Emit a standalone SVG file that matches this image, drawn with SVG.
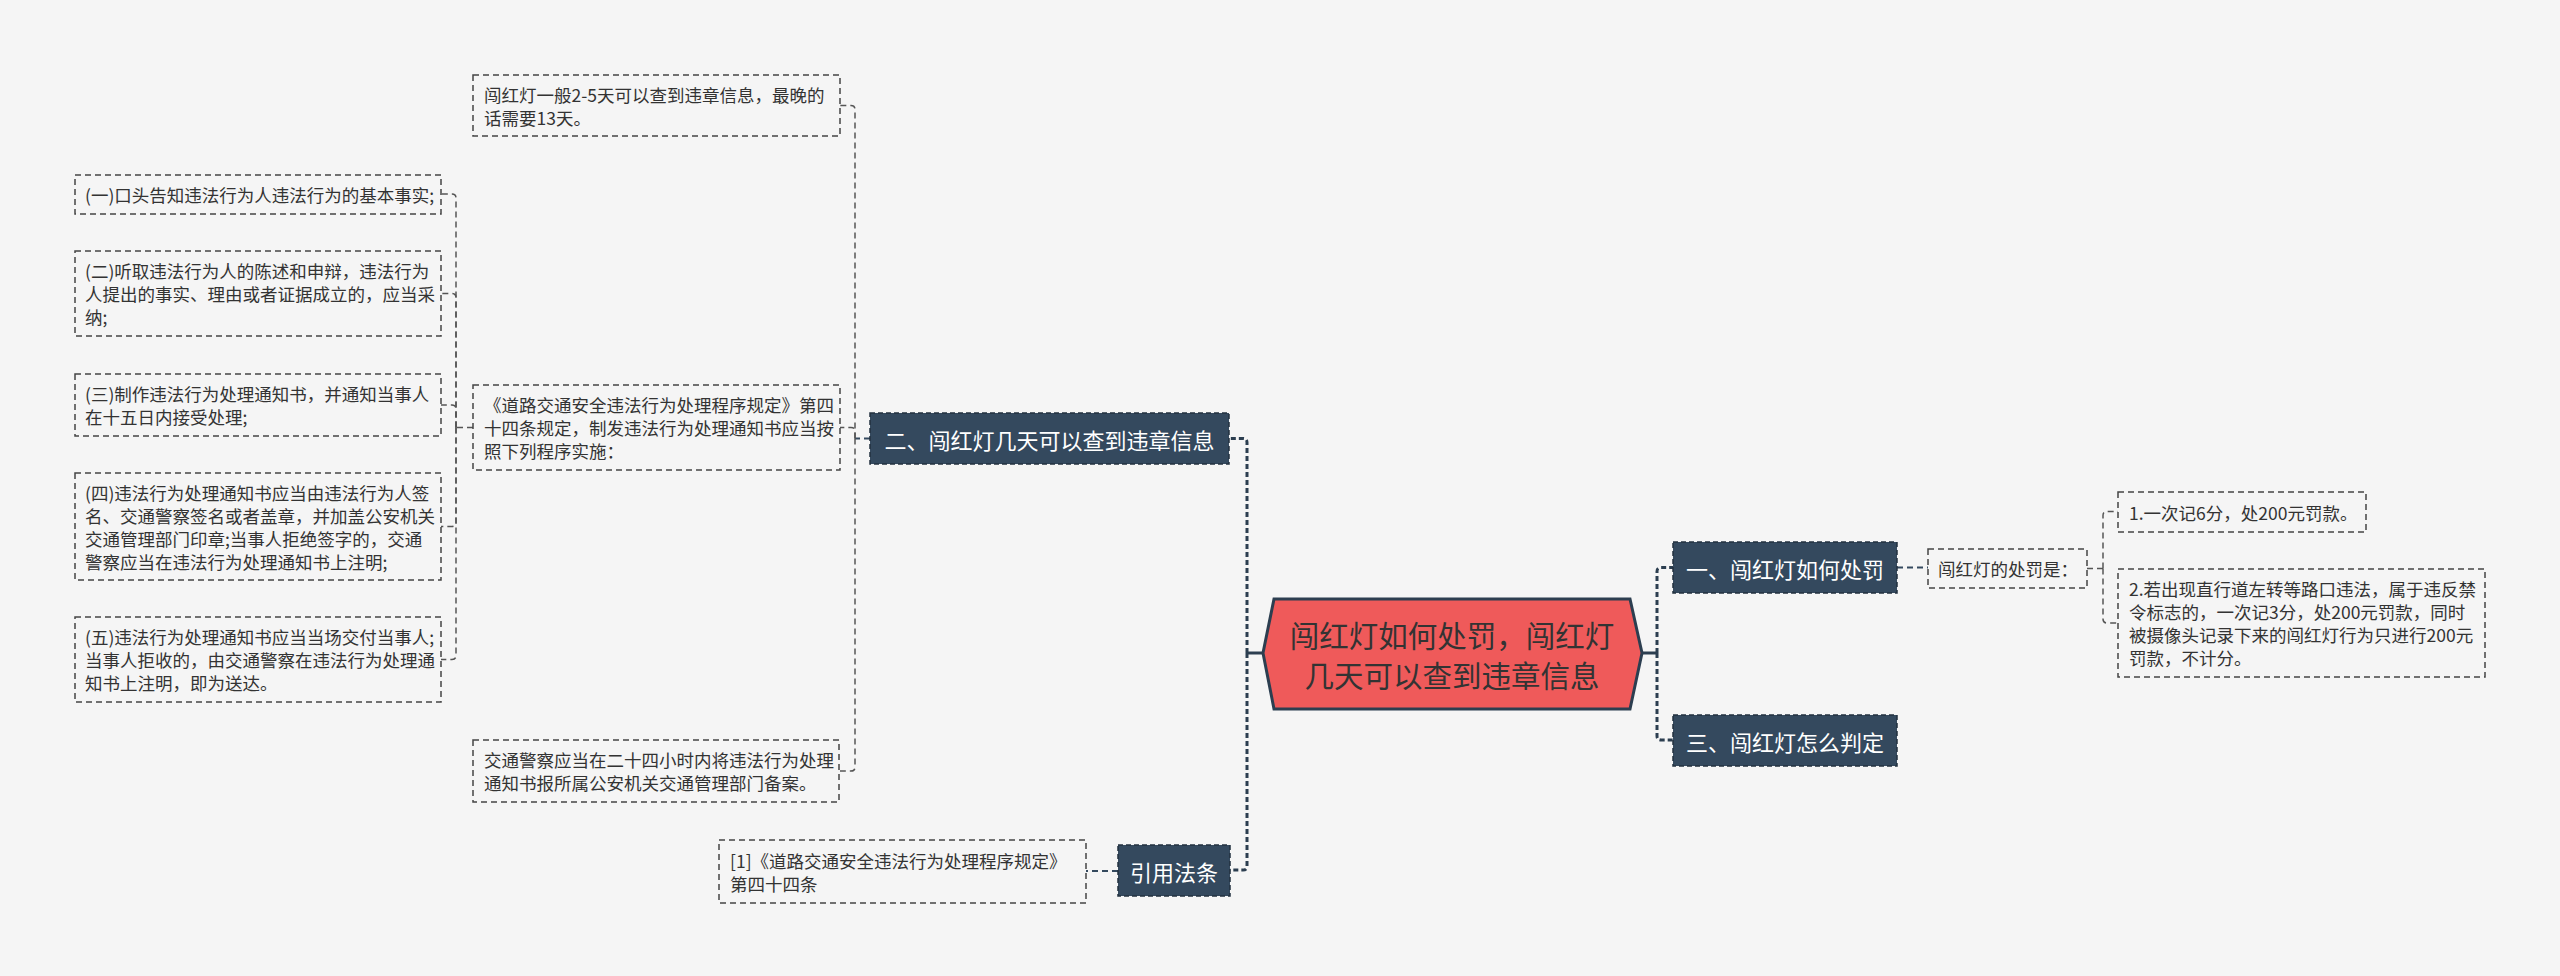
<svg xmlns="http://www.w3.org/2000/svg" width="2560" height="976" viewBox="0 0 2560 976">
<style>
text{font-family:"Noto Sans CJK SC","Noto Sans",sans-serif;}
.box{fill:#f5f5f5;stroke:#444;stroke-width:1.5;stroke-dasharray:6 4;}
.bt{font-size:17.5px;fill:#333;dominant-baseline:central;}
.dark{fill:#34495e;stroke:#22313f;stroke-width:1.5;stroke-dasharray:5 3;}
.dt{font-size:22px;fill:#fff;text-anchor:middle;dominant-baseline:central;}
.c1{fill:none;stroke:#2c3e50;stroke-width:3;stroke-dasharray:5 3;}
.c1s{fill:none;stroke:#2c3e50;stroke-width:3;}
.c2{fill:none;stroke:#34495e;stroke-width:2;stroke-dasharray:6 4;}
.c3{fill:none;stroke:#555;stroke-width:1.5;stroke-dasharray:6 4;}
</style>
<rect width="2560" height="976" fill="#f5f5f5"/>
<g id="connectors">
<path class="c1s" d="M1263,653 H1247"/>
<path class="c1" d="M1247,653 V442.5 Q1247,438.5 1243,438.5 H1230"/>
<path class="c1" d="M1247,653 V866 Q1247,870 1243,870 H1230"/>
<path class="c1s" d="M1642,653 H1657"/>
<path class="c1" d="M1657,653 V571.5 Q1657,567.5 1661,567.5 H1673"/>
<path class="c1" d="M1657,653 V736 Q1657,740 1661,740 H1673"/>
<path class="c2" d="M870,438.5 H855"/>
<path class="c3" d="M855,438.5 V109.5 Q855,105.5 851,105.5 H840"/>
<path class="c3" d="M855,438.5 V431.5 Q855,427.5 851,427.5 H840"/>
<path class="c3" d="M855,438.5 V767 Q855,771 851,771 H840"/>
<path class="c3" d="M473,427.5 H456"/>
<path class="c3" d="M456,427.5 V198 Q456,194 452,194 H441"/>
<path class="c3" d="M456,427.5 V297.5 Q456,293.5 452,293.5 H441"/>
<path class="c3" d="M456,427.5 V409 Q456,405 452,405 H441"/>
<path class="c3" d="M456,427.5 V522.5 Q456,526.5 452,526.5 H441"/>
<path class="c3" d="M456,427.5 V655.5 Q456,659.5 452,659.5 H441"/>
<path class="c2" d="M1118,871 H1086"/>
<path class="c2" d="M1897,567.5 H1928"/>
<path class="c3" d="M2087,568.5 H2103"/>
<path class="c3" d="M2103,568.5 V515.5 Q2103,511.5 2107,511.5 H2118"/>
<path class="c3" d="M2103,568.5 V619 Q2103,623 2107,623 H2118"/>
</g>
<g id="main">
<polygon points="1263,653 1274,599 1630,599 1642,653 1630,709 1274,709" fill="#ef5a5a" stroke="#2c3e50" stroke-width="3"/>
<text x="1452" y="634" font-size="29.5" fill="#333" text-anchor="middle" dominant-baseline="central">闯红灯如何处罚，闯红灯</text>
<text x="1452" y="674" font-size="29.5" fill="#333" text-anchor="middle" dominant-baseline="central">几天可以查到违章信息</text>
</g>
<g id="n-er">
<rect class="dark" x="870" y="413" width="359" height="51"/>
<text class="dt" x="1049.5" y="438.5">二、闯红灯几天可以查到违章信息</text>
</g>
<g id="n-yinyong">
<rect class="dark" x="1118" y="845" width="112" height="51"/>
<text class="dt" x="1174" y="870.5">引用法条</text>
</g>
<g id="n-yi">
<rect class="dark" x="1673" y="542" width="224" height="51"/>
<text class="dt" x="1785" y="567.5">一、闯红灯如何处罚</text>
</g>
<g id="n-san">
<rect class="dark" x="1673" y="715" width="224" height="51"/>
<text class="dt" x="1785" y="740.5">三、闯红灯怎么判定</text>
</g>
<g id="n-a">
<rect class="box" x="473" y="75" width="367" height="61"/>
<text class="bt" x="484" y="94">闯红灯一般2-5天可以查到违章信息，最晚的</text>
<text class="bt" x="484" y="117">话需要13天。</text>
</g>
<g id="n-b">
<rect class="box" x="473" y="385" width="367" height="85"/>
<text class="bt" x="484" y="404.5">《道路交通安全违法行为处理程序规定》第四</text>
<text class="bt" x="484" y="427.5">十四条规定，制发违法行为处理通知书应当按</text>
<text class="bt" x="484" y="450.5">照下列程序实施：</text>
</g>
<g id="n-c">
<rect class="box" x="473" y="740" width="366" height="62"/>
<text class="bt" x="484" y="759.5">交通警察应当在二十四小时内将违法行为处理</text>
<text class="bt" x="484" y="782.5">通知书报所属公安机关交通管理部门备案。</text>
</g>
<g id="n-1">
<rect class="box" x="75" y="175" width="366" height="39"/>
<text class="bt" x="85" y="194.5">(一)口头告知违法行为人违法行为的基本事实;</text>
</g>
<g id="n-2">
<rect class="box" x="75" y="251" width="366" height="85"/>
<text class="bt" x="85" y="270.5">(二)听取违法行为人的陈述和申辩，违法行为</text>
<text class="bt" x="85" y="293.5">人提出的事实、理由或者证据成立的，应当采</text>
<text class="bt" x="85" y="316.5">纳;</text>
</g>
<g id="n-3">
<rect class="box" x="75" y="374" width="366" height="62"/>
<text class="bt" x="85" y="393.5">(三)制作违法行为处理通知书，并通知当事人</text>
<text class="bt" x="85" y="416.5">在十五日内接受处理;</text>
</g>
<g id="n-4">
<rect class="box" x="75" y="473" width="366" height="107"/>
<text class="bt" x="85" y="492">(四)违法行为处理通知书应当由违法行为人签</text>
<text class="bt" x="85" y="515">名、交通警察签名或者盖章，并加盖公安机关</text>
<text class="bt" x="85" y="538">交通管理部门印章;当事人拒绝签字的，交通</text>
<text class="bt" x="85" y="561">警察应当在违法行为处理通知书上注明;</text>
</g>
<g id="n-5">
<rect class="box" x="75" y="617" width="366" height="85"/>
<text class="bt" x="85" y="636.5">(五)违法行为处理通知书应当当场交付当事人;</text>
<text class="bt" x="85" y="659.5">当事人拒收的，由交通警察在违法行为处理通</text>
<text class="bt" x="85" y="682.5">知书上注明，即为送达。</text>
</g>
<g id="n-cite">
<rect class="box" x="719" y="840" width="367" height="63"/>
<text class="bt" x="730" y="860">[1]《道路交通安全违法行为处理程序规定》</text>
<text class="bt" x="730" y="883">第四十四条</text>
</g>
<g id="n-chufa">
<rect class="box" x="1928" y="549" width="159" height="39"/>
<text class="bt" x="1938" y="568.5">闯红灯的处罚是：</text>
</g>
<g id="n-p1">
<rect class="box" x="2118" y="492" width="248" height="40"/>
<text class="bt" x="2129" y="512">1.一次记6分，处200元罚款。</text>
</g>
<g id="n-p2">
<rect class="box" x="2118" y="569" width="367" height="108"/>
<text class="bt" x="2129" y="588.5">2.若出现直行道左转等路口违法，属于违反禁</text>
<text class="bt" x="2129" y="611.5">令标志的，一次记3分，处200元罚款，同时</text>
<text class="bt" x="2129" y="634.5">被摄像头记录下来的闯红灯行为只进行200元</text>
<text class="bt" x="2129" y="657.5">罚款，不计分。</text>
</g>
</svg>
